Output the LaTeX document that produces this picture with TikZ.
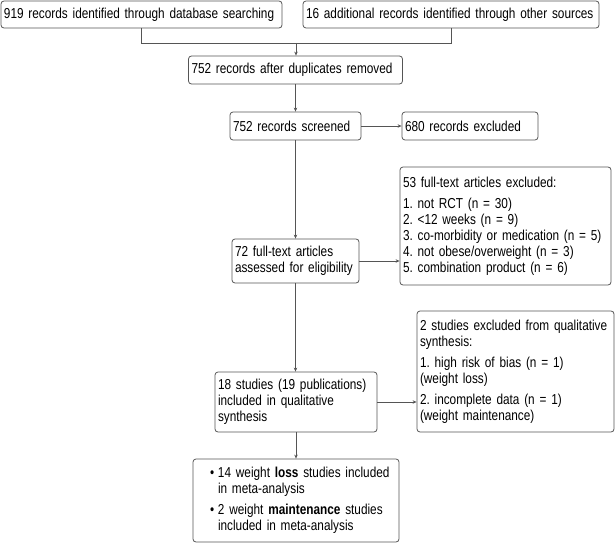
\documentclass[tikz,border=0pt]{standalone}
\usepackage{fontspec}
\setmainfont{Liberation Sans}[FakeStretch=0.82]
\usetikzlibrary{arrows.meta}
\definecolor{lc}{RGB}{85,85,85}
\tikzset{
  box/.style={draw=lc, line width=0.8pt, rounded corners=3pt, inner xsep=3pt, inner ysep=0pt,
    align=left, font=\fontsize{14.4pt}{16pt}\selectfont\frenchspacing},
  conn/.style={draw=lc, line width=0.8pt},
  arr/.style={conn, -{Stealth[length=4pt,width=3.5pt]}}
}
\begin{document}
\begin{tikzpicture}[x=1pt,y=-1pt]
\useasboundingbox (0,0) rectangle (616,543);
\node[box, minimum width=281pt, text width=275pt, minimum height=27pt] (b1) at (141.5,14.5)
  {919 records identified through database searching};
\node[box, minimum width=296pt, text width=290pt, minimum height=27pt] (b2) at (451,14.5)
  {16 additional records identified through other sources};
\node[box, minimum width=214pt, text width=208pt, minimum height=28pt] (b3) at (295.5,70)
  {752 records after duplicates removed};
\node[box, minimum width=131pt, text width=125pt, minimum height=28pt] (b4) at (295.5,126)
  {752 records screened};
\node[box, minimum width=136pt, text width=130pt, minimum height=28pt] (b5) at (470,126)
  {680 records excluded};
\node[box, minimum width=211pt, text width=205pt, minimum height=118pt] (b6) at (505.5,226)
  {53 full-text articles excluded:\\[5pt]
   1. not RCT (n = 30)\\
   2. <12 weeks (n = 9)\\
   3. co-morbidity or medication (n = 5)\\
   4. not obese/overweight (n = 3)\\
   5. combination product (n = 6)};
\node[box, minimum width=127pt, text width=121pt, minimum height=44pt] (b7) at (295.5,261)
  {72 full-text articles\\ assessed for eligibility};
\node[box, minimum width=197pt, text width=191pt, minimum height=121pt] (b8) at (515.5,371.5)
  {2 studies excluded from qualitative\\ synthesis:\\[5pt]
   1. high risk of bias (n = 1)\\ (weight loss)\\[5pt]
   2. incomplete data (n = 1)\\ (weight maintenance)};
\node[box, minimum width=162pt, text width=156pt, minimum height=60pt] (b9) at (296,402)
  {18 studies (19 publications)\\ included in qualitative\\ synthesis};
\node[box, minimum width=206pt, text width=200pt, minimum height=83pt] (b10) at (296,500.5)
  {\hspace*{14pt}\makebox[8pt][l]{\textbullet}14 weight \textbf{loss} studies included\\
   \hspace*{22pt}in meta-analysis\\[5pt]
   \hspace*{14pt}\makebox[8pt][l]{\textbullet}2 weight \textbf{maintenance} studies\\
   \hspace*{22pt}included in meta-analysis};
\coordinate (j) at (296,43);
\draw[conn] (b1.south) |- (j);
\draw[conn] (b2.south) |- (j);
\draw[arr] (j) -- (j |- b3.north);
\draw[arr] (b3.south) -- (b3.south |- b4.north);
\draw[arr] (b4.east) -- (b5.west);
\draw[arr] (b4.south) -- (b4.south |- b7.north);
\draw[arr] (b7.east) -- (b7.east -| b6.west);
\draw[arr] (b7.south) -- (b7.south |- b9.north);
\draw[arr] (b9.east) -- (b9.east -| b8.west);
\draw[arr] (b9.south) -- (b9.south |- b10.north);
\end{tikzpicture}
\end{document}
